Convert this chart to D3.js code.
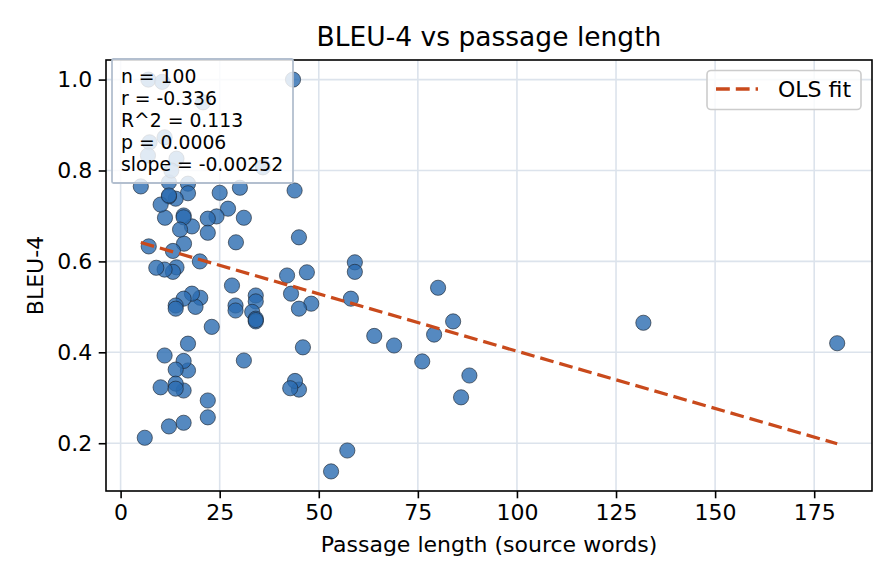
<!DOCTYPE html>
<html>
<head>
  <meta charset="utf-8">
  <title>BLEU-4 vs passage length</title>
  <style>
    body { margin: 0; padding: 0; background: #fff; }
    text { font-family: "DejaVu Sans", sans-serif; fill: #000; }
  </style>
</head>
<body>
<svg width="896" height="584"></svg>
<script src="https://d3js.org/d3.v7.min.js"></script>
<script>

// passage length (source words) and BLEU-4 per passage
var lengths = [
  180.8, 131.9, 88.0, 85.9, 83.9, 80.1, 79.1, 76.1, 69.0, 64.0,
  59.1, 59.1, 58.1, 57.2, 53.1, 48.1, 47.0, 46.0, 45.0, 45.0,
  44.0, 42.8, 43.0, 42.0, 45.0, 43.9, 43.5, 34.1, 34.1, 33.2,
  34.1, 34.1, 31.1, 31.1, 30.1, 29.1, 29.0, 29.0, 28.1, 27.1,
  25.0, 24.2, 23.0, 22.0, 22.0, 22.0, 22.0, 20.0, 20.1, 18.9,
  18.0, 18.0, 17.0, 17.0, 17.0, 17.0, 16.0, 15.9, 15.9, 15.9,
  15.9, 15.9, 15.9, 15.0, 14.1, 13.9, 13.9, 13.9, 13.9, 13.9,
  13.9, 13.2, 13.2, 12.2, 12.2, 12.2, 11.2, 11.1, 11.1, 10.1,
  10.1, 9.0, 7.1, 6.1, 5.1, 20.8, 11.1, 7.3, 6.9, 14.1,
  12.8, 35.9, 7.0, 10.5, 12.2, 34.1
]
var bleu = [
  0.420, 0.465, 0.349, 0.301, 0.468, 0.542, 0.439, 0.380, 0.415, 0.436,
  0.598, 0.577, 0.518, 0.184, 0.138, 0.507, 0.576, 0.411, 0.496, 0.318,
  0.337, 0.321, 0.529, 0.569, 0.653, 0.756, 1.000, 0.525, 0.512, 0.489,
  0.474, 0.468, 0.382, 0.696, 0.762, 0.642, 0.503, 0.492, 0.547, 0.716,
  0.751, 0.699, 0.456, 0.694, 0.663, 0.294, 0.257, 0.600, 0.520, 0.500,
  0.529, 0.677, 0.771, 0.750, 0.419, 0.360, 0.639, 0.518, 0.701, 0.697,
  0.381, 0.316, 0.245, 0.670, 0.587, 0.738, 0.503, 0.496, 0.362, 0.331,
  0.320, 0.623, 0.577, 0.743, 0.774, 0.237, 0.696, 0.582, 0.393, 0.725,
  0.323, 0.586, 0.633, 0.212, 0.765, 0.950, 0.873, 0.862, 0.833, 0.826,
  0.800, 0.807, 1.000, 0.995, 0.745, 0.471
]

// OLS fit reported on the chart
var fitSlope = -0.00252
var fitIntercept = 0.6545

var statLines = ["n = 100", "r = -0.336", "R^2 = 0.113", "p = 0.0006", "slope = -0.00252"]
var xTicks = [0, 25, 50, 75, 100, 125, 150, 175]
var yTicks = [0.2, 0.4, 0.6, 0.8, 1.0]

var titleText = "BLEU-4 vs passage length"
var xLabel = "Passage length (source words)"
var yLabel = "BLEU-4"
var legendLabel = "OLS fit"

// plot box (window.top is read-only, so no bare "top")
var plotLeft = 106, plotRight = 872, plotTop = 60, plotBottom = 491
var labelSize = "22px"

var data = lengths.map((d, i) => ({ x: d, y: bleu[i] }))

var xExt = d3.extent(lengths), yExt = d3.extent(bleu)
var xPad = (xExt[1] - xExt[0]) * 0.05, yPad = (yExt[1] - yExt[0]) * 0.05

var x = d3.scaleLinear().domain([xExt[0] - xPad, xExt[1] + xPad]).range([plotLeft, plotRight])
var y = d3.scaleLinear().domain([yExt[0] - yPad, yExt[1] + yPad]).range([plotBottom, plotTop])

var svg = d3.select("svg")

// grid
var grid = svg.append("g")
grid.selectAll("line.gx").data(xTicks).enter().append("line")
  .attr("x1", d => x(d)).attr("x2", d => x(d))
  .attr("y1", plotTop).attr("y2", plotBottom)
  .style("stroke", "#dce3ec").style("stroke-width", 1.6)
grid.selectAll("line.gy").data(yTicks).enter().append("line")
  .attr("y1", d => y(d)).attr("y2", d => y(d))
  .attr("x1", plotLeft).attr("x2", plotRight)
  .style("stroke", "#dce3ec").style("stroke-width", 1.6)

// points
svg.append("g").selectAll("circle").data(data).enter().append("circle")
  .attr("cx", d => x(d.x))
  .attr("cy", d => y(d.y))
  .attr("r", 7.6)
  .style("fill", "#2b6cb0")
  .style("fill-opacity", 0.8)
  .style("stroke", "#1c2430")
  .style("stroke-opacity", 0.8)
  .style("stroke-width", 0.8)

// fit line
var fitX = d3.extent(lengths)
svg.append("line")
  .attr("x1", x(fitX[0])).attr("y1", y(fitIntercept + fitSlope * fitX[0]))
  .attr("x2", x(fitX[1])).attr("y2", y(fitIntercept + fitSlope * fitX[1]))
  .style("stroke", "#c94a1c")
  .style("stroke-width", 3.3)
  .style("stroke-dasharray", "13.8,6")

// axes
var xAxis = d3.axisBottom(x).tickValues(xTicks).tickSize(7.3).tickPadding(6.5)
var yAxis = d3.axisLeft(y).tickValues(yTicks).tickFormat(d3.format(".1f")).tickSize(7.3).tickPadding(6.5)

var gx = svg.append("g").attr("transform", `translate(0,${plotBottom})`).call(xAxis)
var gy = svg.append("g").attr("transform", `translate(${plotLeft},0)`).call(yAxis)
;[gx, gy].forEach(g => {
  g.select(".domain").remove()
  g.selectAll(".tick line").style("stroke", "#000").style("stroke-width", 1.6)
  g.selectAll(".tick text").style("font-size", labelSize).style("font-family", "DejaVu Sans").style("fill", "#000")
})

// frame
svg.append("rect")
  .attr("x", plotLeft).attr("y", plotTop)
  .attr("width", plotRight - plotLeft).attr("height", plotBottom - plotTop)
  .style("fill", "none").style("stroke", "#000").style("stroke-width", 1.6)

// stats box
var sb = svg.append("g")
sb.append("rect")
  .attr("x", 112).attr("y", 59)
  .attr("width", 181).attr("height", 124)
  .attr("rx", 1.5)
  .style("fill", "#fff").style("fill-opacity", 0.82)
  .style("stroke", "#b3bfcf").style("stroke-width", 1.8)
sb.selectAll("text").data(statLines).enter().append("text")
  .attr("x", 121)
  .attr("y", (d, i) => 83 + i * 22.1)
  .style("font-size", "18.8px")
  .text(d => d)

// legend
var lg = svg.append("g")
lg.append("rect")
  .attr("x", 707).attr("y", 70.5)
  .attr("width", 154).attr("height", 39)
  .attr("rx", 4)
  .style("fill", "#fff").style("fill-opacity", 0.8)
  .style("stroke", "#cccccc").style("stroke-width", 1.6)
lg.append("line")
  .attr("x1", 716).attr("x2", 758)
  .attr("y1", 89).attr("y2", 89)
  .style("stroke", "#c94a1c").style("stroke-width", 3.3)
  .style("stroke-dasharray", "13.8,6")
lg.append("text")
  .attr("x", 778).attr("y", 97)
  .style("font-size", labelSize)
  .text(legendLabel)

// titles
svg.append("text")
  .attr("x", (plotLeft + plotRight) / 2).attr("y", 46)
  .style("text-anchor", "middle")
  .style("font-size", "26.5px")
  .text(titleText)

svg.append("text")
  .attr("x", (plotLeft + plotRight) / 2).attr("y", 552)
  .style("text-anchor", "middle")
  .style("font-size", labelSize)
  .text(xLabel)

svg.append("text")
  .attr("transform", `translate(43,${(plotTop + plotBottom) / 2}) rotate(-90)`)
  .style("text-anchor", "middle")
  .style("font-size", labelSize)
  .text(yLabel)

</script>
</body>
</html>
